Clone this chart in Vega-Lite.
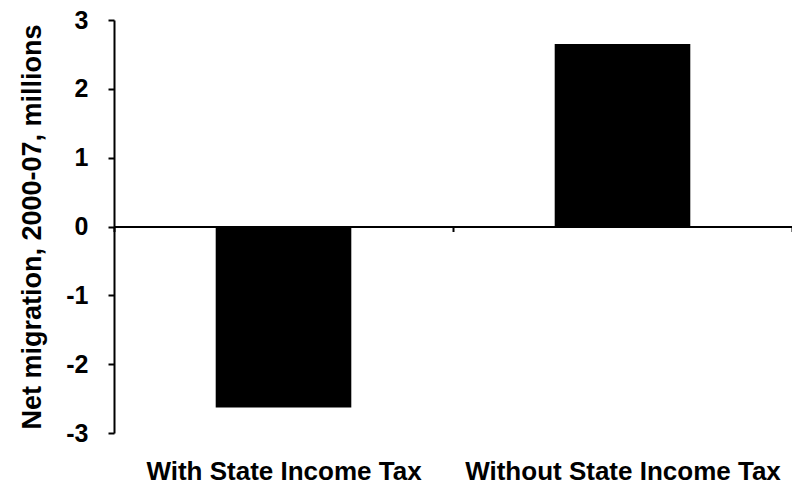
{
  "$schema": "https://vega.github.io/schema/vega-lite/v6.json",
  "width": 678,
  "height": 413,
  "autosize": {"type": "none"},
  "padding": {"left": 114, "top": 20, "right": 0, "bottom": 53},
  "background": "white",
  "config": {
    "view": {"stroke": null},
    "font": "Liberation Sans",
    "axis": {"labelFont": "Liberation Sans", "titleFont": "Liberation Sans", "labelColor": "black", "titleColor": "black", "domainColor": "black", "tickColor": "black", "grid": false}
  },
  "data": {
    "values": [
      {"category": "With State Income Tax", "value": -2.63},
      {"category": "Without State Income Tax", "value": 2.65}
    ]
  },
  "mark": {"type": "bar", "color": "black", "width": {"band": 0.4}},
  "encoding": {
    "x": {
      "field": "category",
      "type": "nominal",
      "sort": null,
      "scale": {"paddingInner": 0, "paddingOuter": 0},
      "axis": {
        "title": null,
        "orient": "bottom",
        "offset": -206.5,
        "domainWidth": 2,
        "tickBand": "extent",
        "tickSize": 5,
        "tickWidth": 2,
        "labelAngle": 0,
        "labelFontSize": 26,
        "labelFontWeight": "bold",
        "labelPadding": 227,
        "labelBaseline": "top",
        "labelLimit": 0,
        "zindex": 1
      }
    },
    "y": {
      "field": "value",
      "type": "quantitative",
      "scale": {"domain": [-3, 3], "nice": false, "zero": false},
      "axis": {
        "title": "Net migration, 2000-07, millions",
        "titleFontSize": 27,
        "titleFontWeight": "bold",
        "titlePadding": 19,
        "values": [-3, -2, -1, 0, 1, 2, 3],
        "labelExpr": "datum.value < 0 ? '-' + abs(datum.value) : '' + datum.value",
        "domainWidth": 2,
        "tickSize": 6,
        "tickWidth": 2,
        "labelFontSize": 25,
        "labelFontWeight": "bold",
        "labelPadding": 20,
        "zindex": 1
      }
    }
  }
}
